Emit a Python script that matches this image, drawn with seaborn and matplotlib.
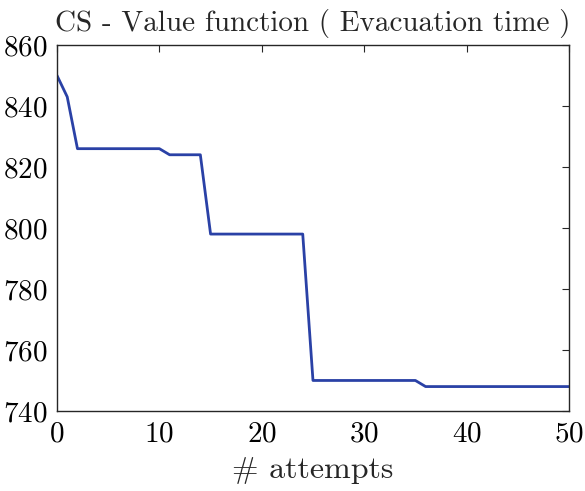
import matplotlib
matplotlib.use("Agg")
import matplotlib.pyplot as plt
import numpy as np
import pandas as pd
import seaborn as sns

# value function per attempt
attempts = list(range(51))
values = [850, 843] + [826] * 9 + [824] * 4 + [798] * 10 + [750] * 11 + [748] * 15

df = pd.DataFrame({"attempt": attempts, "value": values})

sns.set_style("white")
plt.rcParams["font.family"] = ["cmr10", "DejaVu Serif"]
plt.rcParams["axes.formatter.use_mathtext"] = True
plt.rcParams["mathtext.fontset"] = "cm"

fig, ax = plt.subplots(figsize=(5.85, 4.91), dpi=100)
fig.subplots_adjust(left=0.0974, right=0.9726, top=0.9084, bottom=0.163)

sns.lineplot(data=df, x="attempt", y="value", ax=ax, color="#2a41a6", linewidth=2)

ax.set_xlim(0, 50)
ax.set_ylim(740, 860)
ax.set_xticks([0, 10, 20, 30, 40, 50])
ax.set_yticks([740, 760, 780, 800, 820, 840, 860])
ax.tick_params(direction="in", length=5, width=0.8, color="#262626", labelsize=21,
               top=True, right=True, pad=7, labelcolor="black")
for s in ax.spines.values():
    s.set_color("#262626")
    s.set_linewidth(1.0)

ax.set_xlabel("# attempts", fontsize=23, labelpad=7)
ax.set_ylabel("")
ax.set_title("CS - Value function ( Evacuation time )", fontsize=21, pad=10)

fig.savefig("out.png", dpi=100)
